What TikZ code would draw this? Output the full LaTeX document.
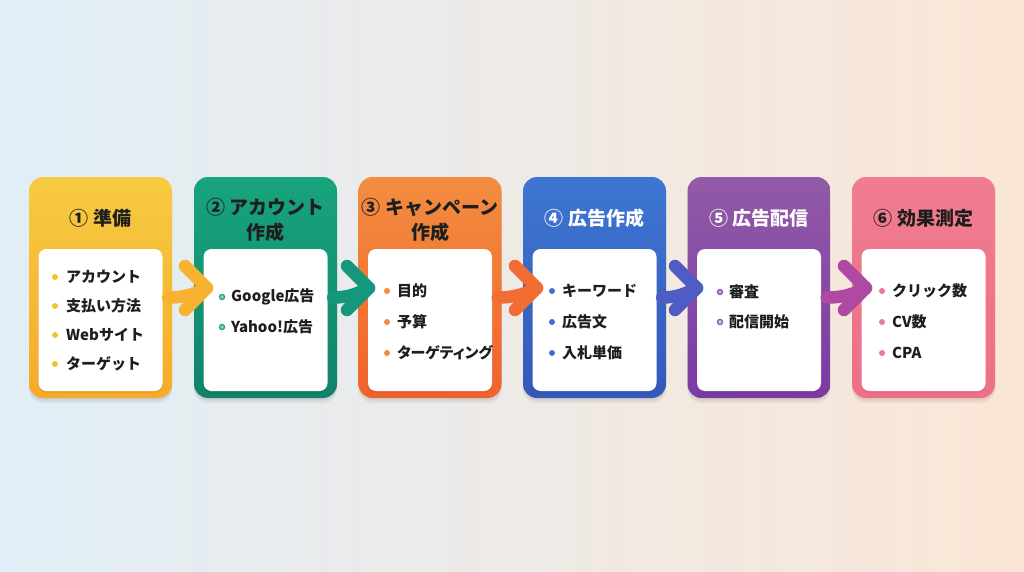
\documentclass[tikz,border=0pt]{standalone}
\usepackage{fontspec}
\setmainfont{Noto Sans CJK JP}
\usetikzlibrary{calc}
\definecolor{bgL}{HTML}{E0EEF7}
\definecolor{bgM}{HTML}{EEF0EC}
\definecolor{bgR}{HTML}{FBE6D6}
\definecolor{ink}{HTML}{1E1E1E}
\definecolor{yA}{HTML}{F6CB42}
\definecolor{yB}{HTML}{F6AA2A}
\definecolor{gA}{HTML}{18A47D}
\definecolor{gB}{HTML}{10836B}
\definecolor{oA}{HTML}{F28D40}
\definecolor{oB}{HTML}{F0622C}
\definecolor{bA}{HTML}{3D76D2}
\definecolor{bB}{HTML}{3558BA}
\definecolor{pA}{HTML}{925AA7}
\definecolor{pB}{HTML}{7A3AA3}
\definecolor{kA}{HTML}{F07C90}
\definecolor{kB}{HTML}{EE7087}
\definecolor{yDot}{HTML}{F5C232}
\definecolor{gDot}{HTML}{1FA582}
\definecolor{oDot}{HTML}{F28A3E}
\definecolor{bDot}{HTML}{3F6FD0}
\definecolor{pDot}{HTML}{8E55A8}
\definecolor{kDot}{HTML}{EE7890}
\definecolor{aY}{HTML}{F7B230}
\definecolor{aG}{HTML}{15977B}
\definecolor{aO}{HTML}{F26C34}
\definecolor{aB}{HTML}{4F5CC4}
\definecolor{aP}{HTML}{AE4AA2}
\begin{document}
\begin{tikzpicture}[x=1pt,y=-1pt,
  card/.style={rounded corners=14pt, minimum width=143pt, minimum height=221pt, inner sep=0pt, draw=none,
    preaction={fill=black, opacity=0.05, transform canvas={yshift=-5pt}},
    preaction={fill=black, opacity=0.06, transform canvas={yshift=-2.5pt}}},
  panel/.style={fill=white, rounded corners=8pt, minimum width=124pt, minimum height=142pt, inner sep=0pt, draw=none,
    preaction={fill=black, opacity=0.06, transform canvas={yshift=-2pt}}},
  ttl/.style={font=\fontsize{19}{25}\selectfont\bfseries, align=center, inner sep=0pt},
  itm/.style={font=\fontsize{15}{18}\selectfont\bfseries, text=ink, anchor=west, inner sep=0pt},
  flow/.style={line width=12.5pt, line cap=round, line join=round},
]
\useasboundingbox (0,0) rectangle (1024,572);
\shade[left color=bgL, middle color=bgM, right color=bgR] (0,0) rectangle (1024,572);

% cards
\node[card, top color=yA, bottom color=yB] (c1) at (100.5,287.5) {};
\node[card, top color=gA, bottom color=gB] (c2) at (265.5,287.5) {};
\node[card, top color=oA, bottom color=oB] (c3) at (430,287.5) {};
\node[card, top color=bA, bottom color=bB] (c4) at (594.5,287.5) {};
\node[card, top color=pA, bottom color=pB] (c5) at (759,287.5) {};
\node[card, top color=kA, bottom color=kB] (c6) at (923.5,287.5) {};

% white panels
\node[panel] (w1) at (100.5,320) {};
\node[panel] (w2) at (265.5,320) {};
\node[panel] (w3) at (430,320) {};
\node[panel] (w4) at (594.5,320) {};
\node[panel] (w5) at (759,320) {};
\node[panel] (w6) at (923.5,320) {};

% titles
\node[ttl, text=ink] (h1) at (100.5,218) {① 準備};
\node[ttl, text=ink] (h2) at (265.5,219.5) {② アカウント\\作成};
\node[ttl, text=ink] (h3) at (430,219.5) {③ キャンペーン\\作成};
\node[ttl, text=white] (h4) at (594.5,218) {④ 広告作成};
\node[ttl, text=white] (h5) at (759,218) {⑤ 広告配信};
\node[ttl, text=ink] (h6) at (923.5,218) {⑥ 効果測定};

% items card 1
\fill[yDot] (55,277) circle (3); \node[itm] (i1a) at (66,277) {アカウント};
\fill[yDot] (55,306) circle (3); \node[itm] (i1b) at (66,306) {支払い方法};
\fill[yDot] (55,335) circle (3); \node[itm] (i1c) at (66,335) {Webサイト};
\fill[yDot] (55,364) circle (3); \node[itm] (i1d) at (66,364) {ターゲット};
% card 2
\filldraw[fill=gDot!55, draw=gDot, line width=1.2pt] (222,297) circle (2.6); \node[itm] (i2a) at (231,297) {Google広告};
\filldraw[fill=gDot!55, draw=gDot, line width=1.2pt] (222,327) circle (2.6); \node[itm] (i2b) at (231,327) {Yahoo!広告};
% card 3
\fill[oDot] (387,291) circle (3); \node[itm] (i3a) at (397,291) {目的};
\fill[oDot] (387,322) circle (3); \node[itm] (i3b) at (397,322) {予算};
\fill[oDot] (387,353) circle (3); \node[itm] (i3c) at (397,353) {\addfontfeature{RawFeature=+palt}ターゲティング};
% card 4
\fill[bDot] (552,291) circle (3); \node[itm] (i4a) at (562,291) {キーワード};
\fill[bDot] (552,322) circle (3); \node[itm] (i4b) at (562,322) {広告文};
\fill[bDot] (552,353) circle (3); \node[itm] (i4c) at (562,353) {入札単価};
% card 5
\filldraw[fill=pDot!55, draw=pDot, line width=1.2pt] (720,292) circle (2.6); \node[itm] (i5a) at (729,292) {審査};
\filldraw[fill=pDot!35, draw=pDot, line width=1.2pt] (720,322) circle (2.6); \node[itm] (i5b) at (729,322) {配信開始};
% card 6
\fill[kDot] (882,291) circle (3); \node[itm] (i6a) at (892,291) {クリック数};
\fill[kDot] (882,322) circle (3); \node[itm] (i6b) at (892,322) {CV数};
\fill[kDot] (882,353) circle (3); \node[itm] (i6c) at (892,353) {CPA};

% arrows
\coordinate (t1) at (207,288);
\coordinate (t2) at (369,288);
\coordinate (t3) at (537,288);
\coordinate (t4) at (697,288);
\coordinate (t5) at (866,288);
\foreach \t/\c/\col in {t1/c1/aY, t2/c2/aG, t3/c3/aO, t4/c4/aB, t5/c5/aP}{
  \draw[flow, \col] ($(\c.east)+(-4,10)$) to[out=0,in=205] (\t);
  \draw[flow, \col] ($(\t)+(-22,-22)$) -- (\t) -- ($(\t)+(-22,22)$);
}
\end{tikzpicture}
\end{document}
